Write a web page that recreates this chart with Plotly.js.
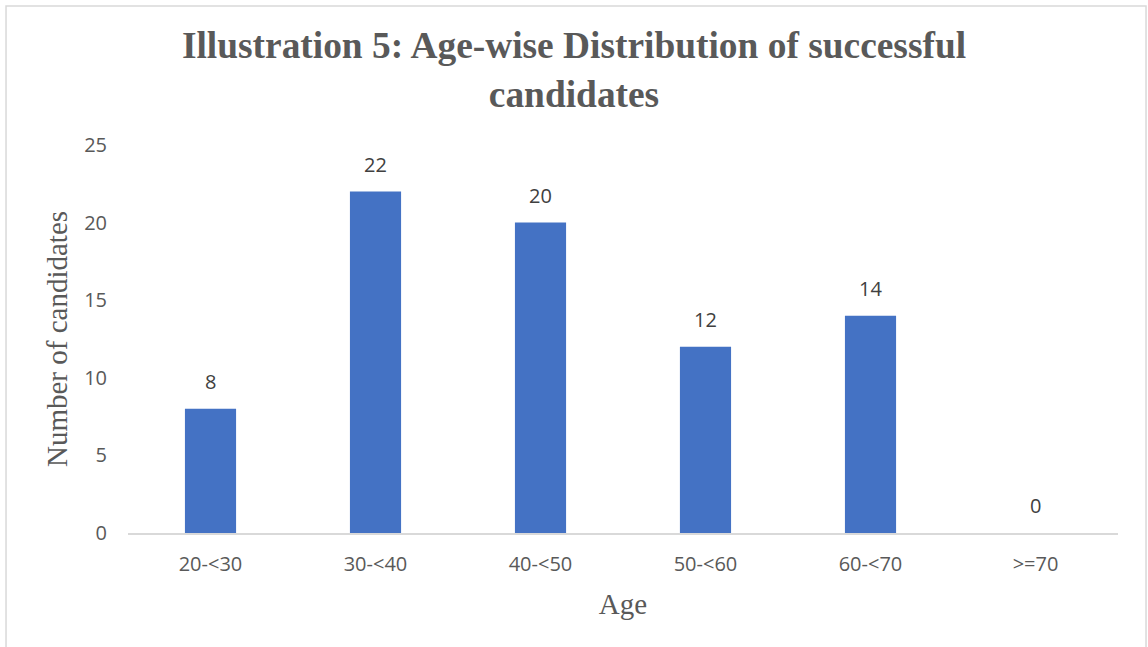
<!DOCTYPE html>
<html>
<head>
<meta charset="utf-8">
<script src="https://cdn.plot.ly/plotly-3.0.1.min.js"></script>
<style>
html,body{margin:0;padding:0;background:#fff;}
#chart{width:1148px;height:647px;}
</style>
</head>
<body>
<div id="chart"></div>
<script>
const categories = ["20-<30", "30-<40", "40-<50", "50-<60", "60-<70", ">=70"];
const candidates = [8, 22, 20, 12, 14, 0];
const yTicks = [0, 5, 10, 15, 20, 25];

const labelFont = {family: "Open Sans, Noto Sans, sans-serif", size: 20, color: "#404040"};

const trace = {
  type: "bar",
  x: categories,
  y: candidates,
  marker: {color: "#4472C4"},
  hoverinfo: "x+y"
};

const labels = categories.map((c, i) => ({
  x: c, y: candidates[i], xref: "x", yref: "y",
  text: String(candidates[i]),
  showarrow: false, yanchor: "bottom", yshift: 12,
  font: labelFont
}));

const layout = {
  width: 1148,
  height: 647,
  paper_bgcolor: "#fff",
  plot_bgcolor: "#fff",
  margin: {l: 128, r: 30, t: 145, b: 114},
  bargap: 0.69,
  showlegend: false,
  title: {
    text: "Illustration 5: Age-wise Distribution of successful<br>candidates",
    font: {family: "Liberation Serif, Times New Roman, serif", size: 37.4, color: "#595959", weight: "bold"},
    x: 0.5, xanchor: "center",
    y: 0.91, yanchor: "middle"
  },
  xaxis: {
    type: "category",
    showgrid: false,
    showline: true,
    linecolor: "#d9d9d9",
    linewidth: 1.5,
    ticks: "",
    ticklabelstandoff: 12,
    tickfont: {family: "Open Sans, Noto Sans, sans-serif", size: 20, color: "#595959"},
    title: {text: "Age", font: {family: "Liberation Serif, Times New Roman, serif", size: 29, color: "#595959"}, standoff: 18}
  },
  yaxis: {
    range: [0, 25],
    tickvals: yTicks,
    showgrid: false,
    zeroline: false,
    showline: false,
    ticks: "",
    ticklabelstandoff: 20,
    tickfont: {family: "Open Sans, Noto Sans, sans-serif", size: 20, color: "#595959"},
    title: {text: "Number of candidates", font: {family: "Liberation Serif, Times New Roman, serif", size: 29, color: "#595959"}, standoff: 7}
  },
  annotations: labels,
  shapes: [{
    type: "rect", xref: "paper", yref: "paper",
    x0: -0.1232, x1: 1.0283, y0: -0.31, y1: 1.358,
    line: {color: "#d9d9d9", width: 1.5}, fillcolor: "rgba(0,0,0,0)"
  }]
};

Plotly.newPlot("chart", [trace], layout, {displayModeBar: false, staticPlot: true});
</script>
</body>
</html>
